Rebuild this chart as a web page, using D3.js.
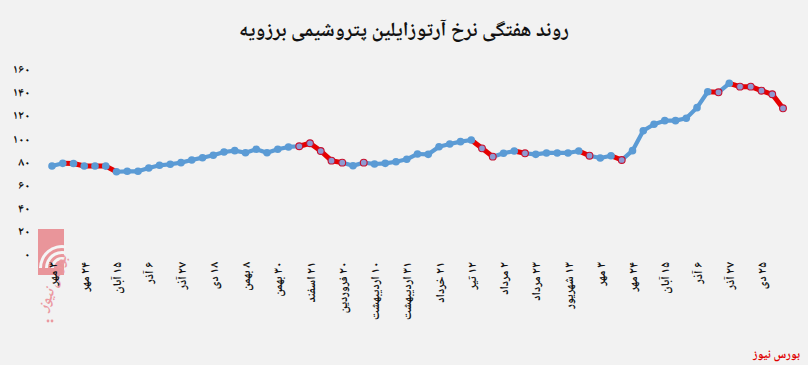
<!DOCTYPE html>
<html><head><meta charset="utf-8">
<script src="https://cdn.jsdelivr.net/npm/d3@7/dist/d3.min.js"></script>
<style>body{margin:0;background:#f2f2f2;} svg{display:block}</style>
</head><body><svg id="c" width="808" height="365"></svg>
<script>
const title = "روند هفتگی نرخ آرتوزایلین پتروشیمی برزویه";
const source = "بورس نیوز";
const values = [
  75.9, 78.2, 78.0, 75.9, 75.9, 75.8, 70.9, 71.3, 71.3, 74.2,
  76.5, 77.4, 78.8, 81.1, 83.1, 85.2, 88.0, 89.2, 87.4, 90.4,
  87.4, 90.4, 92.4, 93.0, 95.6, 88.9, 80.5, 78.8, 76.1, 78.8,
  77.6, 78.2, 79.6, 81.7, 86.3, 86.0, 92.6, 95.0, 97.0, 98.4,
  91.2, 84.0, 86.9, 88.9, 86.9, 86.0, 87.2, 87.2, 87.2, 88.9,
  84.8, 82.8, 84.8, 81.1, 89.2, 106.5, 112.1, 115.2, 115.2, 117.3,
  126.5, 140.3, 139.8, 147.6, 144.7, 144.7, 141.2, 138.1, 125.9
];
const tickLabels = [
  "۳ مهر", "۲۴ مهر", "۱۵ آبان", "۶ آذر", "۲۷ آذر", "۱۸ دی", "۸ بهمن", "۳۰ بهمن",
  "۲۱ اسفند", "۲۰ فروردین", "۱۰ اردیبهشت", "۳۱ اردیبهشت", "۲۱ خرداد", "۱۲ تیر",
  "۲ مرداد", "۲۳ مرداد", "۱۳ شهریور", "۳ مهر", "۲۴ مهر", "۱۵ آبان", "۶ آذر", "۲۷ آذر", "۲۵ دی"
];
const tickStep = 3;
const fallingWeeks = [2,3,4,5,6,24,25,26,27,40,41,44,50,53,62,64,65,66,67,68];
const markedWeeks = [23,24,25,26,27,29,40,41,44,50,53,62,64,65,66,67,68];
const yTicks = [0,20,40,60,80,100,120,140,160];

const FONT = "'Noto Naskh Arabic','Noto Sans Arabic','DejaVu Sans',sans-serif";
const fa = d => String(d).replace(/\d/g, c => "۰۱۲۳۴۵۶۷۸۹"[+c]);

const svg = d3.select("#c");
svg.append("rect").attr("width",808).attr("height",365).attr("fill","#f2f2f2");

const x = d3.scaleLinear().domain([0, values.length - 1]).range([52, 783]);
const y = d3.scaleLinear().domain([0, 160]).range([253.5, 69]);

// watermark logo
const logo = svg.append("g").attr("opacity", 0.85);
logo.append("rect").attr("x",38).attr("y",229).attr("width",26).attr("height",46).attr("fill","#e8858b");
[8,14,20].forEach(r => logo.append("path")
  .attr("d", d3.arc()({innerRadius:r, outerRadius:r+3, startAngle:-Math.PI/2, endAngle:0.2}))
  .attr("transform","translate(62,268)").attr("fill","#f6f6f6"));
logo.append("text").text(source)
  .attr("transform","translate(47,312) rotate(-70)")
  .attr("font-family",FONT).attr("font-size",15).attr("font-style","italic").attr("font-weight","bold")
  .attr("fill","#ea8a92");
logo.append("circle").attr("cx",48).attr("cy",321).attr("r",1.4).attr("fill","#ea8a92");
logo.append("circle").attr("cx",52).attr("cy",321).attr("r",1.4).attr("fill","#ea8a92");

// title
const t = svg.append("text").text(title).attr("x",404).attr("y",36)
  .attr("text-anchor","middle").attr("font-family",FONT).attr("font-size",16)
  .attr("font-weight","bold").attr("fill","#111");
const tw = t.node().getComputedTextLength();
t.attr("font-size", 16 * 330 / tw);

// y axis
const yAxis = d3.axisLeft(y).tickValues(yTicks).tickSize(0).tickPadding(0).tickFormat(fa);
const gy = svg.append("g").attr("transform","translate(30,0)").call(yAxis);
gy.select(".domain").remove();
gy.selectAll("text").attr("font-family",FONT).attr("font-size",12).attr("font-weight","bold").attr("fill","#111");

// x axis
const xAxis = d3.axisBottom(x)
  .tickValues(d3.range(0, values.length, tickStep))
  .tickSize(0)
  .tickFormat((d, i) => tickLabels[i]);
const gx = svg.append("g").attr("transform","translate(0,259)").call(xAxis);
gx.select(".domain").remove();
gx.selectAll("text")
  .attr("font-family",FONT).attr("font-size",12).attr("font-weight","bold").attr("fill","#111")
  .attr("direction","rtl").attr("text-anchor","start")
  .attr("dy","0.35em").attr("y",0).attr("x",-3)
  .attr("transform","rotate(-90)");

// line segments
const pts = values.map((v, i) => [x(i), y(v)]);
const segs = d3.range(1, values.length).map(i => ({i, a: pts[i-1], b: pts[i], fall: fallingWeeks.includes(i)}));
svg.append("g").selectAll("line").data(segs).join("line")
  .attr("x1", d => d.a[0]).attr("y1", d => d.a[1])
  .attr("x2", d => d.b[0]).attr("y2", d => d.b[1])
  .attr("stroke", d => d.fall ? "#e60000" : "#5b9bd5")
  .attr("stroke-width", d => d.fall ? 5 : 4.2)
  .attr("stroke-linecap","round");

// markers
svg.append("g").selectAll("circle").data(values).join("circle")
  .attr("cx", (d, i) => x(i)).attr("cy", d => y(d))
  .attr("r", (d, i) => markedWeeks.includes(i) ? 3.4 : 3.8)
  .attr("fill", (d, i) => markedWeeks.includes(i) ? "#8e9ad2" : "#5b9bd5")
  .attr("stroke", (d, i) => markedWeeks.includes(i) ? "#c8102e" : "none")
  .attr("stroke-width", 1.1);

// source
svg.append("text").text(source).attr("x",800).attr("y",358).attr("text-anchor","end")
  .attr("font-family",FONT).attr("font-size",12).attr("font-weight","bold").attr("fill","#e00000");
</script></body></html>
